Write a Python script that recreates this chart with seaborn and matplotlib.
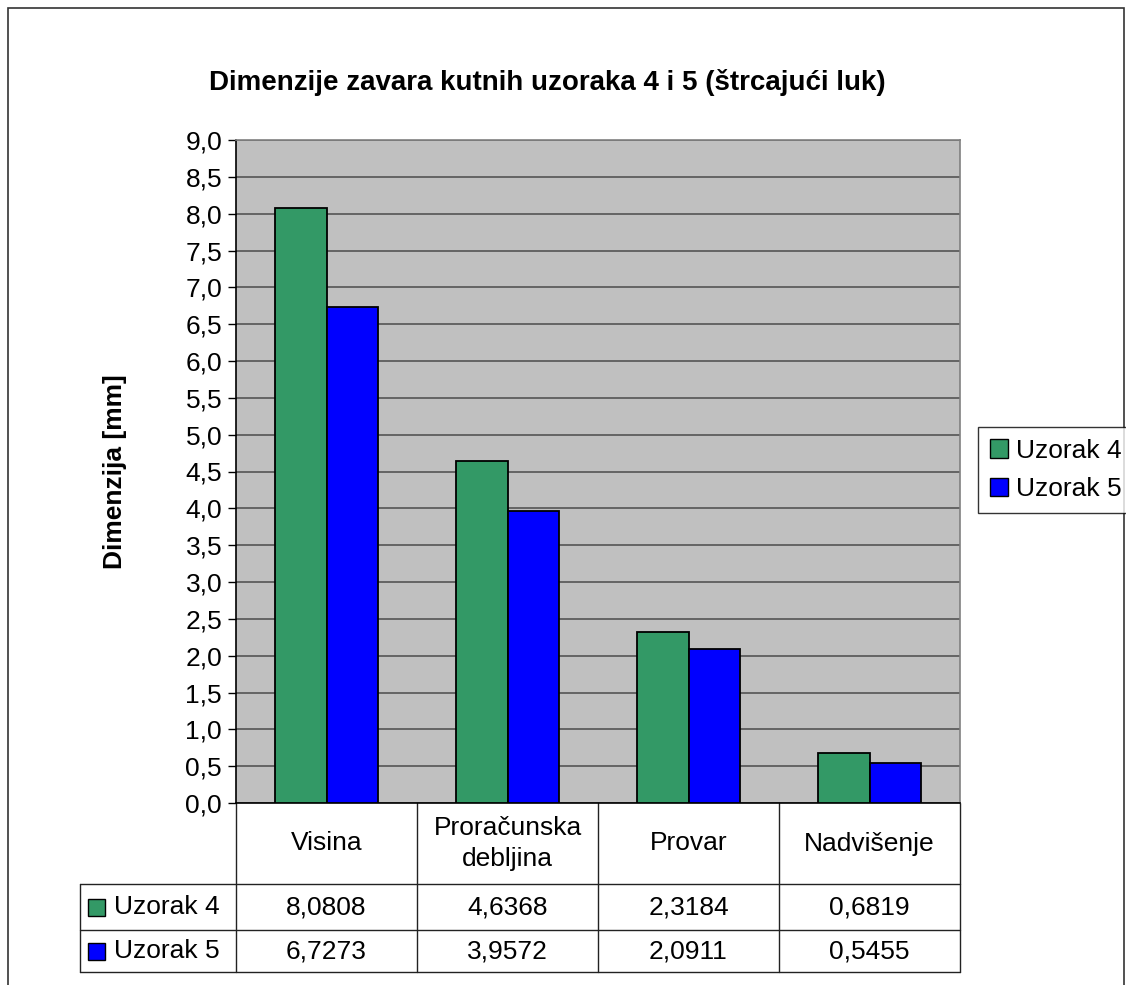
import numpy as np
import pandas as pd
import matplotlib
matplotlib.use("Agg")
import matplotlib.pyplot as plt
from matplotlib.patches import Patch, Rectangle
import seaborn as sns

# Data
categories = ["Visina", "Proračunska\ndebljina", "Provar", "Nadvišenje"]
series_names = ["Uzorak 4", "Uzorak 5"]
uzorak4 = [8.0808, 4.6368, 2.3184, 0.6819]
uzorak5 = [6.7273, 3.9572, 2.0911, 0.5455]
colors = ["#339966", "#0000FF"]
yticks = np.arange(0, 9.01, 0.5)

df = pd.DataFrame({
    "kategorija": categories * 2,
    "uzorak": [series_names[0]] * 4 + [series_names[1]] * 4,
    "vrijednost": uzorak4 + uzorak5,
})

sns.set_style("white")
plt.rcParams["font.family"] = ["Liberation Sans", "DejaVu Sans"]
plt.rcParams["text.color"] = "black"
plt.rcParams["ytick.color"] = "black"
plt.rcParams["axes.labelcolor"] = "black"

W, H = 1126, 985
fig = plt.figure(figsize=(W / 100, H / 100), dpi=100)
ax = fig.add_axes([236 / W, 1 - 803 / H, (960 - 236) / W, (803 - 140) / H])
ax.set_facecolor("#C0C0C0")

sns.barplot(
    data=df, x="kategorija", y="vrijednost", hue="uzorak",
    palette=colors, saturation=1, width=0.571,
    edgecolor="black", linewidth=1.3, ax=ax, legend=False, zorder=3,
)

ax.set_ylim(0, 9)
ax.set_xlim(-0.5, 3.5)
ax.set_yticks(yticks)
ax.set_yticklabels([f"{t:.1f}".replace(".", ",") for t in yticks], fontsize=19)
ax.yaxis.grid(True, color="#555555", linewidth=1.2, zorder=0)
ax.set_axisbelow(True)
ax.tick_params(axis="y", left=True, length=6, width=1, color="black", pad=4)
ax.set_xticks([])
ax.set_xlabel("")
ax.set_ylabel("Dimenzija [mm]", fontsize=19, fontweight="bold", labelpad=42)

for side in ["top", "right"]:
    ax.spines[side].set_color("#808080")
    ax.spines[side].set_linewidth(1.2)
for side in ["left", "bottom"]:
    ax.spines[side].set_color("black")
    ax.spines[side].set_linewidth(1.2)

ax.set_title("Dimenzije zavara kutnih uzoraka 4 i 5 (štrcajući luk)",
             fontsize=20, fontweight="bold", pad=36, x=0.43)

# Data table under the plot
trans = ax.get_xaxis_transform()
ax_h = 803 - 140
y_head = -(884 - 803) / ax_h
y_r1 = -(930 - 803) / ax_h
y_r2 = -(972 - 803) / ax_h
x_left = -0.5 - (236 - 80) / 181
line_kw = dict(transform=trans, color="#222222", linewidth=1, clip_on=False)

for xb in np.arange(-0.5, 4.0, 1.0):
    ax.plot([xb, xb], [0, y_r2], **line_kw)
ax.plot([x_left, x_left], [y_head, y_r2], **line_kw)
ax.plot([-0.5, 3.5], [y_head, y_head], **line_kw)
ax.plot([x_left, -0.5], [y_head, y_head], **line_kw)
ax.plot([x_left, 3.5], [y_r1, y_r1], **line_kw)
ax.plot([x_left, 3.5], [y_r2, y_r2], **line_kw)

for i, cat in enumerate(categories):
    ax.text(i, y_head / 2, cat, transform=trans, ha="center", va="center",
            fontsize=19, linespacing=1.35)

rows = [uzorak4, uzorak5]
row_mid = [(y_head + y_r1) / 2, (y_r1 + y_r2) / 2]
for r, (vals, ym) in enumerate(zip(rows, row_mid)):
    for i, v in enumerate(vals):
        ax.text(i, ym, f"{v:.4f}".replace(".", ","), transform=trans,
                ha="center", va="center", fontsize=19)
    ax.text(x_left + (114 - 80) / 181, ym, series_names[r], transform=trans,
            ha="left", va="center", fontsize=19)

# little colour keys in the table rows
for ypix, c in zip([907, 951], colors):
    fig.add_artist(Rectangle((88 / W, 1 - (ypix + 9) / H), 17 / W, 17 / H,
                             transform=fig.transFigure, facecolor=c,
                             edgecolor="black", linewidth=1))

# Legend
handles = [Patch(facecolor=c, edgecolor="black", linewidth=1) for c in colors]
leg = fig.legend(handles, series_names, loc="center left",
                 bbox_to_anchor=(978 / W, 1 - 470 / H), fontsize=19,
                 frameon=True, fancybox=False, handlelength=0.7,
                 handleheight=0.7, handletextpad=0.3, borderpad=0.45,
                 labelspacing=0.55, borderaxespad=0)
leg.get_frame().set_edgecolor("black")
leg.get_frame().set_linewidth(1)

# outer chart border
fig.add_artist(Rectangle((8 / W, -0.02), (1124 - 8) / W, 1.02 - 8 / H,
                         transform=fig.transFigure, fill=False,
                         edgecolor="#333333", linewidth=1.2))

fig.savefig("out.png", dpi=100, facecolor="white")
